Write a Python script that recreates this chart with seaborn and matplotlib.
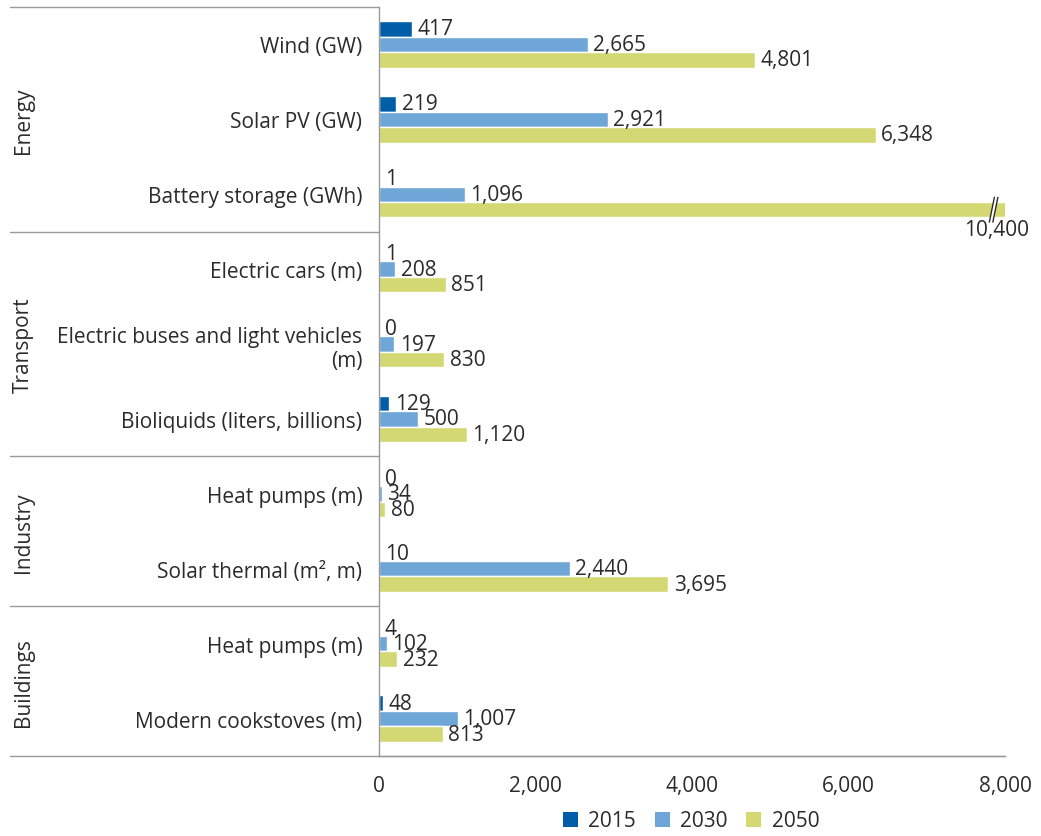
import pandas as pd
import numpy as np
import matplotlib
matplotlib.use("Agg")
import matplotlib.pyplot as plt
import matplotlib.transforms as mtransforms
from matplotlib.patches import Patch, Polygon
import seaborn as sns

# Data
sectors = ["Energy", "Transport", "Industry", "Buildings"]
sector_sizes = [3, 3, 2, 2]
categories = [
    "Wind (GW)",
    "Solar PV (GW)",
    "Battery storage (GWh)",
    "Electric cars (m)",
    "Electric buses and light vehicles\n(m)",
    "Bioliquids (liters, billions)",
    "Heat pumps (m)",
    "Solar thermal (m\u00b2, m)",
    "Heat pumps (m)",
    "Modern cookstoves (m)",
]
years = ["2015", "2030", "2050"]
vals_2015 = [417, 219, 1, 1, 0, 129, 0, 10, 4, 48]
vals_2030 = [2665, 2921, 1096, 208, 197, 500, 34, 2440, 102, 1007]
vals_2050 = [4801, 6348, 10400, 851, 830, 1120, 80, 3695, 232, 813]
x_max = 8000
x_ticks = [0, 2000, 4000, 6000, 8000]

colors = ["#005EA8", "#6FA6D8", "#D4D872"]
text_col = "#2b2b2b"
line_col = "#9a9a9a"
fs = 15

sns.set_style("white")
plt.rcParams["font.family"] = ["Open Sans", "DejaVu Sans"]
plt.rcParams["font.size"] = fs

# long-format table; unique keys because "Heat pumps (m)" occurs twice
keys = [f"{i:02d}" for i in range(len(categories))]
df = pd.DataFrame({
    "key": keys * 3,
    "year": np.repeat(years, len(keys)),
    "value": vals_2015 + vals_2030 + vals_2050,
})

fig = plt.figure(figsize=(10.41, 8.37), dpi=100)
ax = fig.add_axes([379 / 1041, 1 - 757 / 837, 626 / 1041, 749 / 837])

sns.barplot(data=df, y="key", x="value", hue="year", order=keys,
            hue_order=years, palette=colors, orient="h", width=0.62,
            gap=0, saturation=1, ax=ax, legend=False, errorbar=None)

ax.set_xlim(0, x_max)
ax.set_ylim(len(keys) - 0.5, -0.5)
ax.set_xlabel("")
ax.set_ylabel("")

# axes styling
for side in ["top", "right"]:
    ax.spines[side].set_visible(False)
for side in ["left", "bottom"]:
    ax.spines[side].set_color(line_col)
    ax.spines[side].set_linewidth(1.0)

ax.set_yticks(range(len(keys)))
ax.set_yticklabels(categories, ha="right", color=text_col, fontsize=fs)
ax.tick_params(axis="y", length=0, pad=12)
ax.set_yticks(np.arange(-0.5, len(keys), 1), minor=True)
ax.tick_params(axis="y", which="minor", length=6, color=line_col, direction="out")

ax.set_xticks(x_ticks)
ax.set_xticklabels([f"{t:,}" for t in x_ticks], color=text_col, fontsize=fs)
ax.tick_params(axis="x", length=6, color=line_col, direction="out", pad=8)

# value labels
all_vals = [vals_2015, vals_2030, vals_2050]
for cont, vals in zip(ax.containers, all_vals):
    labels = [f"{v:,}" if v <= x_max else "" for v in vals]
    ax.bar_label(cont, labels=labels, padding=4, color=text_col, fontsize=fs)

# axis break on the clipped bar
bar_h = 0.62 / 3
for i, v in enumerate(vals_2050):
    if v > x_max:
        yc = i + bar_h
        xb = x_max * 0.979
        dx = x_max * 0.004
        y0, y1 = yc + bar_h * 0.8, yc - bar_h * 0.8
        gap = Polygon([[xb - dx, y0], [xb + dx, y1], [xb + 2.4 * dx, y1],
                       [xb + 0.4 * dx, y0]], closed=True, facecolor="white",
                      edgecolor="none", zorder=5, clip_on=False)
        ax.add_patch(gap)
        ax.plot([xb - dx, xb + dx], [y0, y1], color=text_col, lw=1, zorder=6,
                clip_on=False)
        ax.plot([xb + 0.4 * dx, xb + 2.4 * dx], [y0, y1], color=text_col, lw=1,
                zorder=6, clip_on=False)
        ax.text(x_max * 0.987, yc + bar_h * 0.6, f"{v:,}", ha="center",
                va="top", color=text_col, fontsize=fs)

# sector separators and labels in the label area
trans = mtransforms.blended_transform_factory(ax.transAxes, ax.transData)
left_x = (10 - 379) / 626
bounds = np.concatenate([[0], np.cumsum(sector_sizes)]) - 0.5
for b in bounds[:-1]:
    ax.plot([left_x, 0], [b, b], transform=trans, color=line_col, lw=1,
            clip_on=False)
ax.plot([left_x, 1], [bounds[-1], bounds[-1]], transform=trans, color=line_col,
        lw=1, clip_on=False)
for s, lo, hi in zip(sectors, bounds[:-1], bounds[1:]):
    ax.text((23 - 379) / 626, (lo + hi) / 2, s, transform=trans, rotation=90,
            ha="center", va="center", color=text_col, fontsize=fs)

handles = [Patch(facecolor=c, edgecolor="none") for c in colors]
fig.legend(handles, years, loc="center", bbox_to_anchor=(691 / 1041, 1 - 822 / 837),
           ncol=3, frameon=False, fontsize=fs, handlelength=0.72,
           handleheight=0.72, columnspacing=0.9, handletextpad=0.5,
           labelcolor=text_col)

fig.savefig("out.png", dpi=100)
